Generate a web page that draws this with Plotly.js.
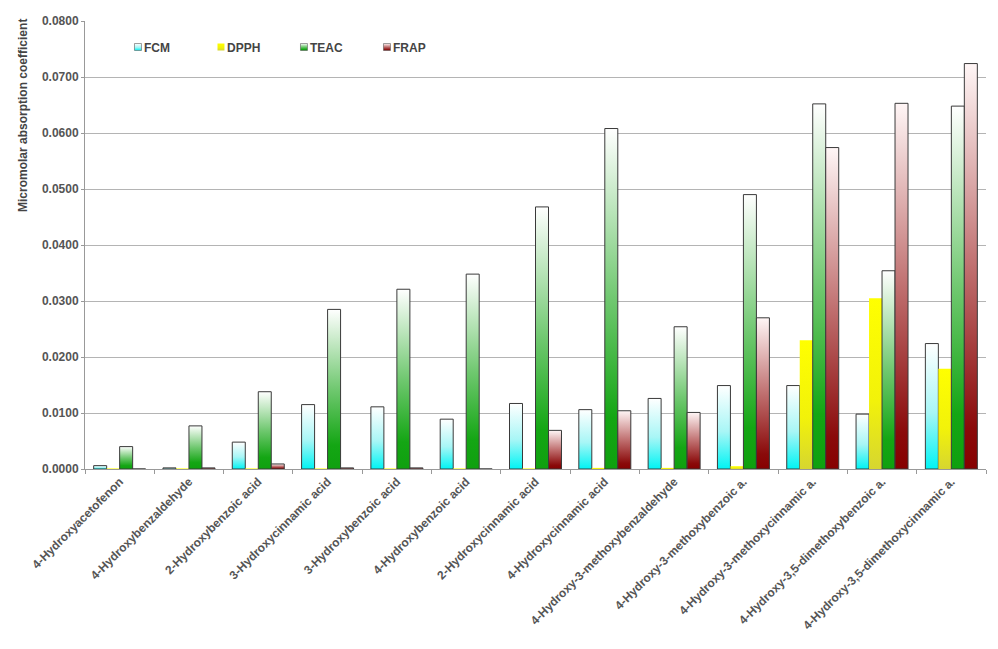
<!DOCTYPE html>
<html>
<head>
<meta charset="utf-8">
<script src="https://cdn.plot.ly/plotly-3.0.1.min.js"></script>
<style>
html,body{margin:0;padding:0;background:#fff;}
#chart{width:998px;height:649px;}
</style>
</head>
<body>
<div id="chart"></div>
<script>
var categories = ['4-Hydroxyacetofenon','4-Hydroxybenzaldehyde','2-Hydroxybenzoic acid','3-Hydroxycinnamic acid','3-Hydroxybenzoic acid','4-Hydroxybenzoic acid','2-Hydroxycinnamic acid','4-Hydroxycinnamic acid','4-Hydroxy-3-methoxybenzaldehyde','4-Hydroxy-3-methoxybenzoic a.','4-Hydroxy-3-methoxycinnamic a.','4-Hydroxy-3,5-dimethoxybenzoic a.','4-Hydroxy-3,5-dimethoxycinnamic a.'];
var seriesNames = ['FCM','DPPH','TEAC','FRAP'];
var fcm  = [0.0006,0.0002,0.0048,0.0115,0.0111,0.0089,0.0117,0.0106,0.0126,0.0149,0.0149,0.0098,0.0224];
var dpph = [0.0001,0.0001,0.0001,0.0001,0.0001,0.0001,0.0001,0.0002,0.0002,0.0005,0.0230,0.0305,0.0179];
var teac = [0.0040,0.0077,0.0138,0.0285,0.0321,0.0348,0.0468,0.0608,0.0254,0.0490,0.0652,0.0354,0.0648];
var frap = [0,0.0002,0.0009,0.0002,0.0002,0,0.0069,0.0104,0.0101,0.0270,0.0574,0.0653,0.0724];
var yTickVals = [0,0.01,0.02,0.03,0.04,0.05,0.06,0.07,0.08];
var yTitle = 'Micromolar absorption coefficient';

var baseColors = ['#18eaea','#ecec10','#10a010','#8a0808'];
var gradStops = [
  [['0','#ffffff'],['0.55','#a8f6f6'],['1','#00f4f4']],
  [['0','#ffff00'],['0.6','#f2f20a'],['1','#d6d630']],
  [['0','#ffffff'],['0.5','#70c870'],['0.85','#14a614'],['1','#0fa00f']],
  [['0','#fff6f6'],['0.5','#c07070'],['0.9','#8a0a0a'],['1','#860000']]
];
var valuesList = [fcm, dpph, teac, frap];

var traces = seriesNames.map(function(n, i){
  return {
    type:'bar', name:n, x:categories, y:valuesList[i],
    marker:{color:baseColors[i], line:{color: i===1 ? 'rgba(0,0,0,0)' : '#3a3a3a', width: i===1 ? 0 : 1}},
    hoverinfo:'y+name'
  };
});

var font = 'Liberation Sans, Arial, sans-serif';
var layout = {
  width:998, height:649,
  margin:{l:85, r:12, t:21, b:180},
  paper_bgcolor:'#ffffff', plot_bgcolor:'#ffffff',
  barmode:'group', bargap:0.25, bargroupgap:0,
  font:{family:font, color:'#555'},
  showlegend:true,
  legend:{orientation:'h', x:0.0366, xanchor:'left', y:0.942, yanchor:'middle',
    font:{family:font, size:12, color:'#444', weight:'bold'},
    entrywidth:38, entrywidthmode:'pixels', itemwidth:30, bgcolor:'rgba(0,0,0,0)'},
  xaxis:{type:'category', tickangle:-45, ticks:'outside', tickson:'boundaries', ticklen:4,
    tickcolor:'#999', showline:true, linecolor:'#999', linewidth:1, showgrid:false,
    tickfont:{family:font, size:12, color:'#555', weight:'bold'}, automargin:false},
  yaxis:{range:[0,0.08], tickvals:yTickVals, tickformat:'.4f', ticks:'outside', ticklen:3,
    tickcolor:'#999', showline:true, linecolor:'#999', linewidth:1, showgrid:true,
    gridcolor:'#b4b4b4', gridwidth:1, zeroline:false,
    tickfont:{family:font, size:12, color:'#555', weight:'bold'},
    automargin:false},
  annotations:[{text:yTitle, xref:'paper', yref:'paper', x:-0.0688, y:0.788,
    xanchor:'center', yanchor:'middle', textangle:-90, showarrow:false,
    font:{family:font, size:12, color:'#444', weight:'bold'}}]
};

Plotly.newPlot('chart', traces, layout, {displayModeBar:false, staticPlot:true}).then(function(gd){
  var svgNS = 'http://www.w3.org/2000/svg';
  var svg = gd.querySelector('svg.main-svg');
  var defs = svg.querySelector('defs');
  if(!defs){ defs = document.createElementNS(svgNS,'defs'); svg.insertBefore(defs, svg.firstChild); }
  gradStops.forEach(function(stops, i){
    var lg = document.createElementNS(svgNS,'linearGradient');
    lg.setAttribute('id','barGrad'+i);
    lg.setAttribute('x1','0'); lg.setAttribute('y1','0');
    lg.setAttribute('x2','0'); lg.setAttribute('y2','1');
    stops.forEach(function(s){
      var st = document.createElementNS(svgNS,'stop');
      st.setAttribute('offset', s[0]);
      st.setAttribute('stop-color', s[1]);
      lg.appendChild(st);
    });
    defs.appendChild(lg);
  });
  var groups = gd.querySelectorAll('.barlayer .trace.bars');
  groups.forEach(function(g, i){
    g.querySelectorAll('path').forEach(function(p){ p.style.fill = 'url(#barGrad'+i+')'; });
  });
  var legItems = gd.querySelectorAll('.legend .traces');
  legItems.forEach(function(it, i){
    it.querySelectorAll('.legendpoints path').forEach(function(p){
      p.style.fill = 'url(#barGrad'+i+')';
      var t = p.getAttribute('transform') || '';
      p.setAttribute('transform', t + ' scale(0.58)');
      if(i !== 1){ p.style.stroke = '#555'; p.style.strokeWidth = '1px'; }
    });
    it.querySelectorAll('text.legendtext').forEach(function(tx){
      tx.setAttribute('x', '26');
    });
  });
});
</script>
</body>
</html>
